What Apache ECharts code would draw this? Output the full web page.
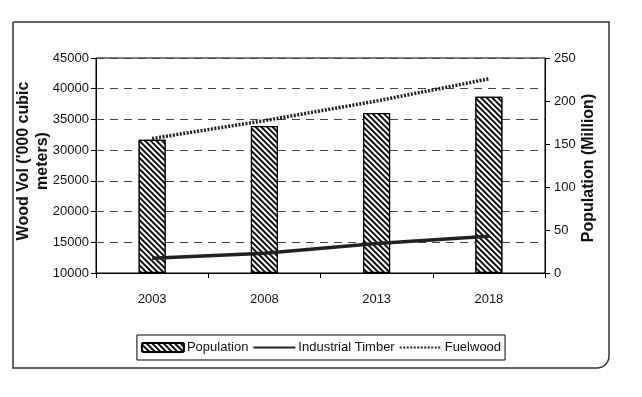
<!DOCTYPE html>
<html>
<head>
<meta charset="utf-8">
<script src="https://cdn.jsdelivr.net/npm/echarts@6/dist/echarts.min.js"></script>
<style>
  html, body { margin: 0; padding: 0; background: #fff; }
  #chart { width: 642px; height: 397px; }
</style>
</head>
<body>
<div id="chart"></div>
<script>
// values
var years = ['2003', '2008', '2013', '2018'];
var population = [155, 171, 186, 205];               // million, right axis
var industrialTimber = [12400, 13200, 14800, 16000]; // '000 m3, left axis
var fuelwood = [31900, 34800, 38000, 41600];         // '000 m3, left axis

var volTicks = { min: 10000, max: 45000, step: 5000 };
var popTicks = { min: 0, max: 250, step: 50 };

var leftTitle = "Wood Vol ('000 cubic\nmeters)";
var rightTitle = 'Population (Million)';

var FONT = "'Liberation Sans', Arial, sans-serif";

var myChart = echarts.init(document.getElementById('chart'), null, { renderer: 'canvas' });

// legend line icons should have no marker dot
var noDot = { color: 'rgba(0,0,0,0)', borderWidth: 0, opacity: 0 };

var option = {
  animation: false,
  backgroundColor: '#fff',
  textStyle: { fontFamily: FONT, color: '#111' },
  graphic: [
    {
      type: 'rect',
      z: -10,
      shape: { x: 13, y: 22, width: 596, height: 346, r: [0, 0, 12, 0] },
      style: { fill: 'none', stroke: '#333', lineWidth: 1.5 }
    },
    {
      type: 'text',
      x: 33,
      y: 161,
      rotation: Math.PI / 2,
      style: {
        text: leftTitle,
        align: 'center',
        verticalAlign: 'middle',
        font: "bold 16px 'Liberation Sans', Arial, sans-serif",
        lineHeight: 19,
        fill: '#111'
      }
    },
    {
      type: 'text',
      x: 589,
      y: 168,
      rotation: Math.PI / 2,
      style: {
        text: rightTitle,
        align: 'center',
        verticalAlign: 'middle',
        font: "bold 16px 'Liberation Sans', Arial, sans-serif",
        fill: '#111'
      }
    }
  ],
  grid: {
    left: 96,
    right: 97,
    top: 58,
    bottom: 124,
    show: true,
    borderColor: '#000',
    borderWidth: 1,
    containLabel: false,
    outerBoundsMode: 'none'
  },
  legend: {
    left: 'center',
    top: 335,
    orient: 'horizontal',
    borderColor: '#000',
    borderWidth: 1,
    padding: [6, 4],
    itemGap: 4,
    itemWidth: 42,
    itemHeight: 9,
    textStyle: { fontFamily: FONT, fontSize: 13, color: '#111', padding: [0, 0, 0, -2] },
    data: [
      { name: 'Population' },
      { name: 'Industrial Timber', itemStyle: noDot },
      { name: 'Fuelwood', itemStyle: noDot }
    ]
  },
  xAxis: {
    type: 'category',
    data: years,
    boundaryGap: true,
    axisLine: { lineStyle: { color: '#000', width: 1 } },
    axisTick: { show: true, length: 5, lineStyle: { color: '#000' } },
    axisLabel: { margin: 20, fontSize: 13, color: '#111', fontFamily: FONT },
    splitLine: { show: false }
  },
  yAxis: [
    {
      type: 'value',
      position: 'left',
      min: volTicks.min,
      max: volTicks.max,
      interval: volTicks.step,
      axisLine: { show: true, lineStyle: { color: '#000', width: 1 } },
      axisTick: { show: true, length: 5, lineStyle: { color: '#000' } },
      axisLabel: {
        margin: 7, fontSize: 13, color: '#111', fontFamily: FONT,
        formatter: function (v) { return String(v); }
      },
      splitLine: { show: true, lineStyle: { color: '#444', width: 1.2, type: [8, 6] } }
    },
    {
      type: 'value',
      position: 'right',
      min: popTicks.min,
      max: popTicks.max,
      interval: popTicks.step,
      axisLine: { show: true, lineStyle: { color: '#000', width: 1 } },
      axisTick: { show: true, length: 5, lineStyle: { color: '#000' } },
      axisLabel: {
        margin: 9, fontSize: 13, color: '#111', fontFamily: FONT,
        formatter: function (v) { return String(v); }
      },
      splitLine: { show: false }
    }
  ],
  series: [
    {
      name: 'Population',
      type: 'bar',
      yAxisIndex: 1,
      barWidth: 27,
      data: population,
      itemStyle: {
        color: '#fff',
        borderColor: '#000',
        borderWidth: 1.2,
        decal: {
          symbol: 'rect',
          symbolSize: 1,
          dashArrayX: [1, 0],
          dashArrayY: [2, 2],
          rotation: Math.PI / 4,
          color: '#111',
          backgroundColor: '#fff'
        }
      },
      z: 2
    },
    {
      name: 'Industrial Timber',
      type: 'line',
      yAxisIndex: 0,
      data: industrialTimber,
      symbol: 'none',
      lineStyle: { color: '#222', width: 3.5 },
      itemStyle: { color: '#222' },
      z: 3
    },
    {
      name: 'Fuelwood',
      type: 'line',
      yAxisIndex: 0,
      data: fuelwood,
      symbol: 'none',
      lineStyle: { color: '#222', width: 3.5, type: [2, 1.5] },
      itemStyle: { color: '#222' },
      z: 3
    }
  ]
};

if (option && typeof option === 'object') {
  myChart.setOption(option, true);
}
</script>
</body>
</html>
